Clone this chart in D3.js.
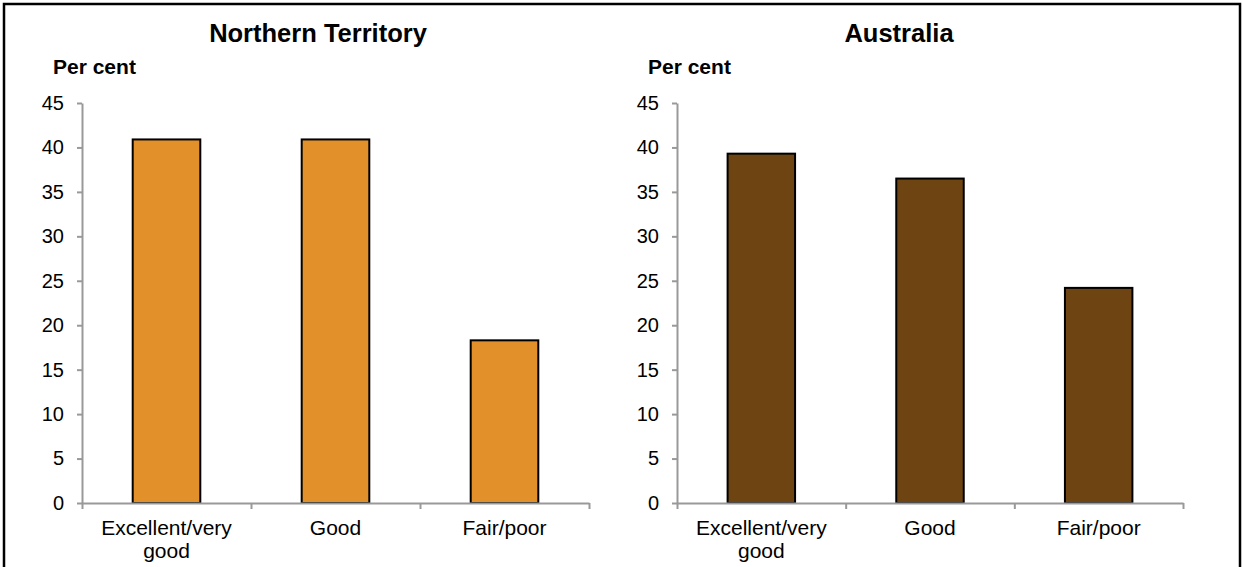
<!DOCTYPE html>
<html>
<head>
<meta charset="utf-8">
<script src="https://cdn.jsdelivr.net/npm/d3@7"></script>
<style>
  html, body { margin: 0; padding: 0; background: #fff; }
  svg { display: block; font-family: "Liberation Sans", Arial, sans-serif; }
</style>
</head>
<body>
<svg id="chart" width="1242" height="567"></svg>
<script>
// ---- data ----
const categories = ["Excellent/very good", "Good", "Fair/poor"];
const categoryLines = [["Excellent/very", "good"], ["Good"], ["Fair/poor"]];
const ntValues = [40.9, 40.9, 18.3];
const ausValues = [39.3, 36.5, 24.2];
const yTicks = [0, 5, 10, 15, 20, 25, 30, 35, 40, 45];
const panelTitles = ["Northern Territory", "Australia"];
const yAxisLabel = "Per cent";
const colors = ["#E2902A", "#6E4512"];

const svg = d3.select("#chart");

// outer frame (bottom edge lies outside the picture)
svg.append("rect")
  .attr("x", 4).attr("y", 4)
  .attr("width", 1236).attr("height", 600)
  .attr("fill", "none").attr("stroke", "#000").attr("stroke-width", 2.5);

const panels = [
  { title: panelTitles[0], values: ntValues, color: colors[0], x0: 82, x1: 589, titleX: 318, labelX: 53 },
  { title: panelTitles[1], values: ausValues, color: colors[1], x0: 677, x1: 1183, titleX: 899, labelX: 648 }
];

const yTop = 103, yBottom = 503;

panels.forEach(p => {
  const g = svg.append("g");
  const y = d3.scaleLinear().domain([0, 45]).range([yBottom, yTop]);
  const x = d3.scaleBand().domain(categories).range([p.x0, p.x1])
    .paddingInner(0.6).paddingOuter(0.3);
  const xb = d3.scaleLinear().domain([0, categories.length]).range([p.x0, p.x1]);

  // title
  g.append("text").attr("x", p.titleX).attr("y", 42)
    .attr("text-anchor", "middle").attr("font-weight", "bold")
    .attr("font-size", 25.5).attr("fill", "#000").text(p.title);

  // y label
  g.append("text").attr("x", p.labelX).attr("y", 74)
    .attr("font-weight", "bold").attr("font-size", 21).attr("fill", "#000").text(yAxisLabel);

  // y axis
  const ya = g.append("g").attr("transform", `translate(${p.x0},0)`)
    .call(d3.axisLeft(y).tickValues(yTicks).tickSize(5).tickPadding(13).tickSizeOuter(0));
  ya.select(".domain").attr("stroke", "#999").attr("stroke-width", 2);
  ya.selectAll(".tick line").attr("stroke", "#999").attr("stroke-width", 2);
  ya.selectAll(".tick text").attr("font-size", 20).attr("fill", "#000")
    .attr("font-family", "Liberation Sans, Arial, sans-serif");

  // bars
  g.selectAll("rect.bar").data(p.values).enter().append("rect")
    .attr("class", "bar")
    .attr("x", (d, i) => x(categories[i]))
    .attr("y", d => y(d))
    .attr("width", x.bandwidth())
    .attr("height", d => y(0) - y(d))
    .attr("fill", p.color).attr("stroke", "#000").attr("stroke-width", 2);

  // x axis with boundary ticks
  const xa = g.append("g").attr("transform", `translate(0,${yBottom})`)
    .call(d3.axisBottom(xb).tickValues(d3.range(categories.length + 1)).tickFormat("").tickSize(6).tickSizeOuter(0));
  xa.select(".domain").attr("stroke", "#999").attr("stroke-width", 2);
  xa.selectAll(".tick line").attr("stroke", "#999").attr("stroke-width", 2);

  // category labels
  categories.forEach((c, i) => {
    const t = g.append("text").attr("text-anchor", "middle")
      .attr("font-size", 21).attr("fill", "#000");
    categoryLines[i].forEach((line, j) => {
      t.append("tspan").attr("x", x(c) + x.bandwidth() / 2)
        .attr("y", 535 + j * 23).text(line);
    });
  });
});
</script>
</body>
</html>
